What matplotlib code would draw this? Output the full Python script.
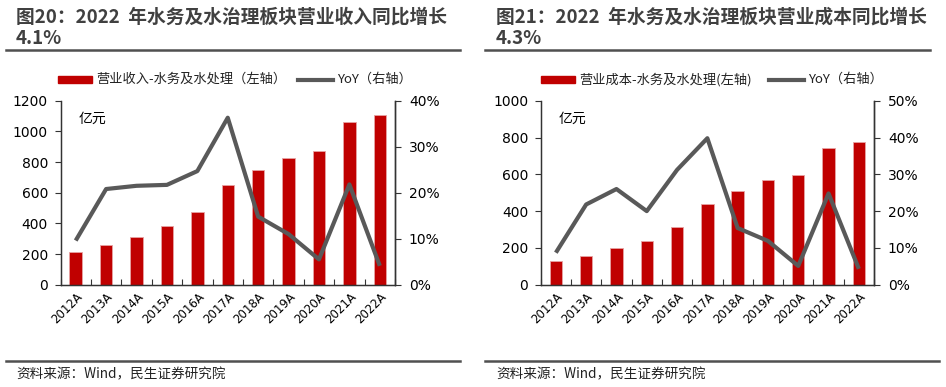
import matplotlib
matplotlib.use("Agg")
import matplotlib.pyplot as plt
from matplotlib.lines import Line2D
from matplotlib.ticker import FuncFormatter
import numpy as np

plt.rcParams['font.family'] = ['Noto Sans CJK SC', 'DejaVu Sans']

years = ["2012A", "2013A", "2014A", "2015A", "2016A", "2017A",
         "2018A", "2019A", "2020A", "2021A", "2022A"]

revenue = [213, 259, 313, 383, 474, 650, 748, 826, 872, 1063, 1109]
revenue_yoy = [9.6, 20.8, 21.5, 21.7, 24.7, 36.3, 14.8, 11.0, 5.5, 21.8, 4.1]

cost = [129, 158, 197, 239, 315, 440, 507, 569, 596, 745, 777]
cost_yoy = [8.7, 21.8, 26.0, 20.0, 31.2, 39.8, 15.4, 11.9, 5.1, 24.8, 4.3]

panels = [
    dict(title="图20：2022  年水务及水治理板块营业收入同比增长\n4.1%",
         bar_label="营业收入-水务及水处理（左轴）", bars=revenue, yoy=revenue_yoy,
         ymax=1200, ystep=200, rmax=40, rstep=10),
    dict(title="图21：2022  年水务及水治理板块营业成本同比增长\n4.3%",
         bar_label="营业成本-水务及水处理(左轴)", bars=cost, yoy=cost_yoy,
         ymax=1000, ystep=200, rmax=50, rstep=10),
]

W, H = 946, 387
fig = plt.figure(figsize=(W / 100, H / 100), dpi=100)

BAR_C = "#C00000"
LINE_C = "#595959"
RULE_C = "#505050"
TXT_C = "#404040"

geo = [
    dict(ax_l=60.5, ax_r=395, title_x=16, rule_x=(6, 460), foot_x=(6, 460),
         leg_patch=58, leg_line=298),
    dict(ax_l=540.7, ax_r=874, title_x=496, rule_x=(485, 930), foot_x=(485, 939),
         leg_patch=541, leg_line=769),
]

ax_top, ax_bot = 100.7, 284.7

def fx(px):
    return px / W

def fy(py):
    return 1 - py / H

for p, g in zip(panels, geo):
    ax = fig.add_axes([fx(g['ax_l']), fy(ax_bot), (g['ax_r'] - g['ax_l']) / W,
                       (ax_bot - ax_top) / H])
    x = np.arange(len(years))
    ax.bar(x, p['bars'], width=0.41, color=BAR_C, edgecolor="#E7A3A3",
           linewidth=0.6, zorder=2)
    ax.set_xlim(-0.5, len(years) - 0.5)
    ax.set_ylim(0, p['ymax'])
    ax.set_yticks(np.arange(0, p['ymax'] + 1, p['ystep']))
    ax.set_xticks(x)
    ax.set_xticklabels(years, rotation=45, ha='right', rotation_mode='anchor',
                       fontsize=8.5, family=['DejaVu Sans'])
    ax.tick_params(axis='x', length=0, pad=4)
    ax.set_xticks(np.arange(-0.5, len(years) - 0.4, 1), minor=True)
    ax.tick_params(axis='x', which='minor', direction='in', length=4, width=0.8,
                   color='#333333')
    ax.tick_params(axis='y', direction='out', length=4, width=0.8,
                   labelsize=10, color='#333333', pad=5)
    for lab in ax.get_yticklabels():
        lab.set_family(['DejaVu Sans'])
    ax.spines['top'].set_visible(False)
    for s in ['left', 'bottom', 'right']:
        ax.spines[s].set_color('#333333')
        ax.spines[s].set_linewidth(1.0)
    ax.text(0.055, 0.94, "亿元", transform=ax.transAxes, fontsize=10,
            va='top', ha='left', color='#000000')

    ax2 = ax.twinx()
    ax2.plot(x, p['yoy'], color=LINE_C, linewidth=3, zorder=3,
             solid_capstyle='butt')
    ax2.set_ylim(0, p['rmax'])
    ax2.set_yticks(np.arange(0, p['rmax'] + 1, p['rstep']))
    ax2.yaxis.set_major_formatter(FuncFormatter(lambda v, _: f"{v:.0f}%"))
    ax2.tick_params(axis='y', direction='out', length=4, width=0.8,
                    labelsize=10, color='#333333', pad=6)
    for lab in ax2.get_yticklabels():
        lab.set_family(['DejaVu Sans'])
    ax2.spines['top'].set_visible(False)
    for s in ['left', 'bottom', 'right']:
        ax2.spines[s].set_color('#333333')
    ax2.spines['right'].set_linewidth(1.0)

    # title
    fig.text(fx(g['title_x']), fy(8), p['title'], fontsize=13.5, fontweight='bold',
             color=TXT_C, va='top', ha='left', linespacing=1.1)
    fig.add_artist(Line2D([fx(g['rule_x'][0]), fx(g['rule_x'][1])], [fy(49.5), fy(49.5)],
                          color=RULE_C, linewidth=1.8))
    # footer
    fig.add_artist(Line2D([fx(g['foot_x'][0]), fx(g['foot_x'][1])], [fy(360.7), fy(360.7)],
                          color=RULE_C, linewidth=1.8))
    fig.text(fx(g['title_x']), fy(374), "资料来源：Wind，民生证券研究院", fontsize=9.8,
             color='#222222', va='center', ha='left')

    # legend (manual placement)
    fig.add_artist(plt.Rectangle((fx(g['leg_patch']), fy(82.5)), 34 / W, 6 / H,
                                 color=BAR_C, transform=fig.transFigure))
    fig.text(fx(g['leg_patch'] + 38), fy(79.5), p['bar_label'], fontsize=9.5,
             color='#222222', va='center', ha='left')
    fig.add_artist(Line2D([fx(g['leg_line']), fx(g['leg_line'] + 35)], [fy(79.5), fy(79.5)],
                          color=LINE_C, linewidth=3))
    fig.text(fx(g['leg_line'] + 39), fy(79.5), "YoY（右轴）", fontsize=9.5,
             color='#222222', va='center', ha='left')

fig.savefig("out.png", dpi=100)
